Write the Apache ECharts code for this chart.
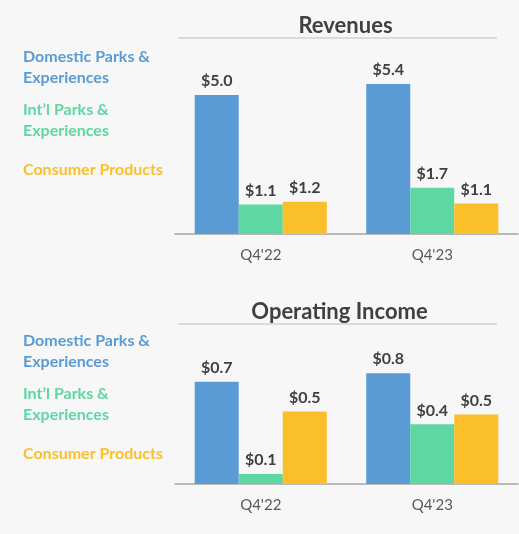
<!DOCTYPE html>
<html>
<head>
<meta charset="utf-8">
<script src="https://cdn.jsdelivr.net/npm/echarts@6/dist/echarts.min.js"></script>
<style>
html,body{margin:0;padding:0;background:#f7f7f7;}
#chart{width:519px;height:534px;}
</style>
</head>
<body>
<div id="chart"></div>
<script>
// ---- data ----
var categories = ["Q4'22", "Q4'23"];
var seriesNames = ["Domestic Parks &\nExperiences", "Int\u2019l Parks &\nExperiences", "Consumer Products"];
var revDomestic = [5.0, 5.4];
var revIntl = [1.06, 1.66];
var revConsumer = [1.16, 1.1];
var opDomestic = [0.72, 0.78];
var opIntl = [0.07, 0.42];
var opConsumer = [0.51, 0.49];
var panelTitles = ["Revenues", "Operating Income"];

var colors = ['#5B9BD5', '#5FD7A3', '#FBBF2A'];
var font = 'Lato, "Open Sans", sans-serif';

function labelCfg() {
  return {
    show: true, position: 'top', distance: 6,
    color: '#404040', fontWeight: 'bold', fontSize: 16, fontFamily: font,
    formatter: function (p) { return '$' + p.value.toFixed(1); }
  };
}
function bar(name, data, idx, color) {
  return {
    type: 'bar', name: name, data: data, xAxisIndex: idx, yAxisIndex: idx,
    barGap: '0%', barCategoryGap: '23%',
    itemStyle: { color: color },
    label: labelCfg(), animation: false
  };
}
function xAx(idx) {
  return {
    type: 'category', data: categories, gridIndex: idx,
    axisLine: { lineStyle: { color: '#a6a6a6', width: 1.5 } },
    axisTick: { show: false },
    axisLabel: { color: '#595959', fontSize: 15, fontFamily: font, margin: 14 }
  };
}
function yAx(idx, max) {
  return { type: 'value', gridIndex: idx, min: 0, max: max, show: false, splitLine: { show: false } };
}

var legendTexts = [];
[[57, 110, 170], [341, 394, 454]].forEach(function (ys) {
  var offs = [[ys[0], 0], [ys[1], 1], [ys[2], 2]];
  offs.forEach(function (o) {
    legendTexts.push({
      type: 'text', left: 23, top: o[0] - 10.5,
      style: {
        text: seriesNames[o[1]], fill: colors[o[1]],
        font: 'bold 16px ' + font, lineHeight: 21
      }
    });
  });
});

var chart = echarts.init(document.getElementById('chart'), null, { renderer: 'canvas' });
chart.setOption({
  backgroundColor: '#f7f7f7',
  animation: false,
  title: [
    { text: panelTitles[0], left: 340.5, top: 10, textAlign: 'center',
      textStyle: { color: '#404040', fontSize: 22, fontWeight: 'bold', fontFamily: font } },
    { text: panelTitles[1], left: 334.5, top: 296, textAlign: 'center',
      textStyle: { color: '#404040', fontSize: 22, fontWeight: 'bold', fontFamily: font } }
  ],
  grid: [
    { left: 175, width: 343, top: 67.2, height: 166.8 },
    { left: 175, width: 343, top: 342, height: 142 }
  ],
  xAxis: [xAx(0), xAx(1)],
  yAxis: [yAx(0, 6), yAx(1, 1)],
  series: [
    bar(seriesNames[0], revDomestic, 0, colors[0]),
    bar(seriesNames[1], revIntl, 0, colors[1]),
    bar(seriesNames[2], revConsumer, 0, colors[2]),
    bar(seriesNames[0], opDomestic, 1, colors[0]),
    bar(seriesNames[1], opIntl, 1, colors[1]),
    bar(seriesNames[2], opConsumer, 1, colors[2])
  ],
  graphic: legendTexts.concat([
    { type: 'line', shape: { x1: 178, y1: 38, x2: 497, y2: 38 }, style: { stroke: '#bfbfbf', lineWidth: 1 } },
    { type: 'line', shape: { x1: 178, y1: 324, x2: 497, y2: 324 }, style: { stroke: '#bfbfbf', lineWidth: 1 } }
  ])
});
</script>
</body>
</html>
